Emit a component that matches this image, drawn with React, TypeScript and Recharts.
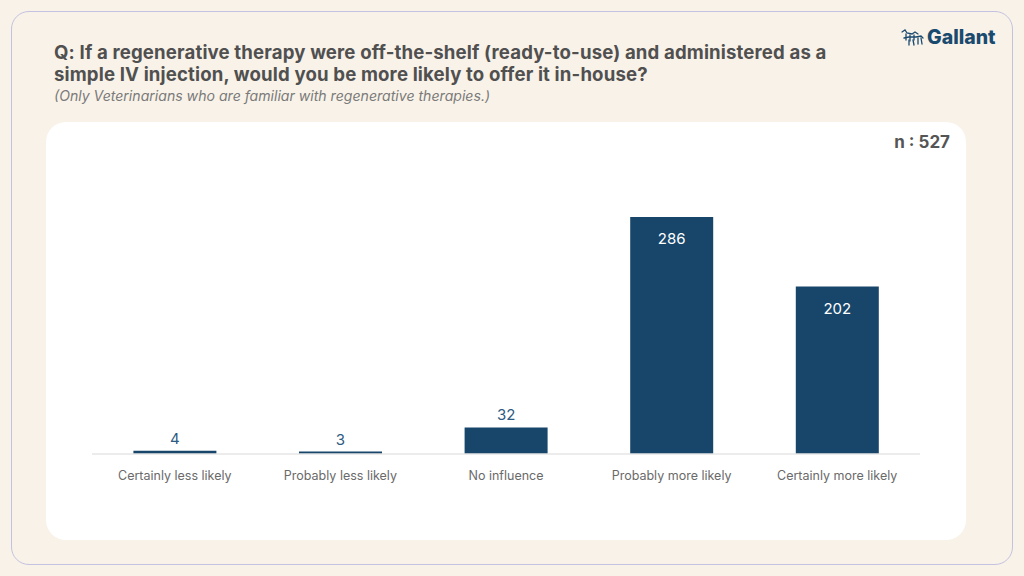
import React from "react";
import { BarChart, Bar, XAxis, YAxis, LabelList } from "recharts";

const categories = [
  "Certainly less likely",
  "Probably less likely",
  "No influence",
  "Probably more likely",
  "Certainly more likely",
];
const counts = [4, 3, 32, 286, 202];
const sampleSize = 527;

const data = categories.map((c, i) => ({ name: c, value: counts[i] }));

const FONT = "Inter, 'Noto Sans', sans-serif";

const renderLabel = (props: any) => {
  const { x, y, width, height, value } = props;
  const cx = x + width / 2;
  if (height > 60) {
    return (
      <text x={cx} y={y + 27} textAnchor="middle" fill="#ffffff" fontSize={15} fontFamily={FONT}>
        {value}
      </text>
    );
  }
  return (
    <text x={cx} y={y - 7} textAnchor="middle" fill="#2d5b81" fontSize={15} fontFamily={FONT}>
      {value}
    </text>
  );
};

export default function App() {
  return (
    <div
      style={{
        position: "absolute",
        left: 0,
        top: 0,
        width: 1024,
        height: 576,
        background: "#f9f2e8",
        fontFamily: FONT,
        overflow: "hidden",
      }}
    >
      <div
        style={{
          position: "absolute",
          left: 11,
          top: 11,
          width: 1000,
          height: 552,
          border: "1.5px solid #c3c2e0",
          borderRadius: 18,
        }}
      />
      <div
        style={{
          position: "absolute",
          left: 54,
          top: 41,
          fontSize: 18.6,
          fontWeight: 700,
          color: "#505050",
          lineHeight: "22px",
          letterSpacing: 0.15,
          whiteSpace: "nowrap",
        }}
      >
        Q: If a regenerative therapy were off-the-shelf (ready-to-use) and administered as a
        <br />
        simple IV injection, would you be more likely to offer it in-house?
      </div>
      <div
        style={{
          position: "absolute",
          left: 54,
          top: 87,
          fontSize: 14.1,
          fontStyle: "italic",
          color: "#7a7a7a",
          whiteSpace: "nowrap",
        }}
      >
        (Only Veterinarians who are familiar with regenerative therapies.)
      </div>
      <div
        style={{
          position: "absolute",
          left: 900,
          top: 25,
          display: "flex",
          alignItems: "center",
          color: "#1b4a6f",
          fontWeight: 800,
          fontSize: 19.5,
        }}
      >
        <svg width={24} height={18} viewBox="0 0 24 18" style={{ marginRight: 3 }}>
          <g stroke="#1b4a6f" strokeWidth={1.3} fill="none" strokeLinecap="round">
            <path d="M2 4 L5 2 L7 5 L12 6 L15 4 L18 6" />
            <path d="M6 6 L6 12 M10 7 L10 13 M14 7 L14 12" />
            <path d="M4 10 L9 9 L16 9 L21 8 L23 10" />
            <path d="M9 12 L9 17 M13 12 L14 17 M18 10 L18 16 M21 10 L22 16" />
          </g>
        </svg>
        Gallant
      </div>
      <div
        style={{
          position: "absolute",
          left: 46,
          top: 122,
          width: 920,
          height: 418,
          background: "#ffffff",
          borderRadius: 20,
        }}
      >
        <div
          style={{
            position: "absolute",
            right: 16,
            top: 10,
            fontSize: 17,
            fontWeight: 700,
            color: "#555555",
          }}
        >
          n : {sampleSize}
        </div>
        <BarChart
          width={920}
          height={418}
          data={data}
          margin={{ top: 95, right: 46, bottom: 56, left: 46 }}
          barCategoryGap="25%"
        >
          <XAxis
            dataKey="name"
            axisLine={{ stroke: "#e6e6e6", strokeWidth: 1.5 }}
            tickLine={false}
            height={30}
            tick={{ fill: "#6a6a6a", fontSize: 12.5, fontFamily: FONT }}
            tickMargin={11}
            interval={0}
          />
          <YAxis hide domain={[0, 286]} />
          <Bar dataKey="value" fill="#17466a" isAnimationActive={false}>
            <LabelList dataKey="value" content={renderLabel} />
          </Bar>
        </BarChart>
      </div>
    </div>
  );
}
